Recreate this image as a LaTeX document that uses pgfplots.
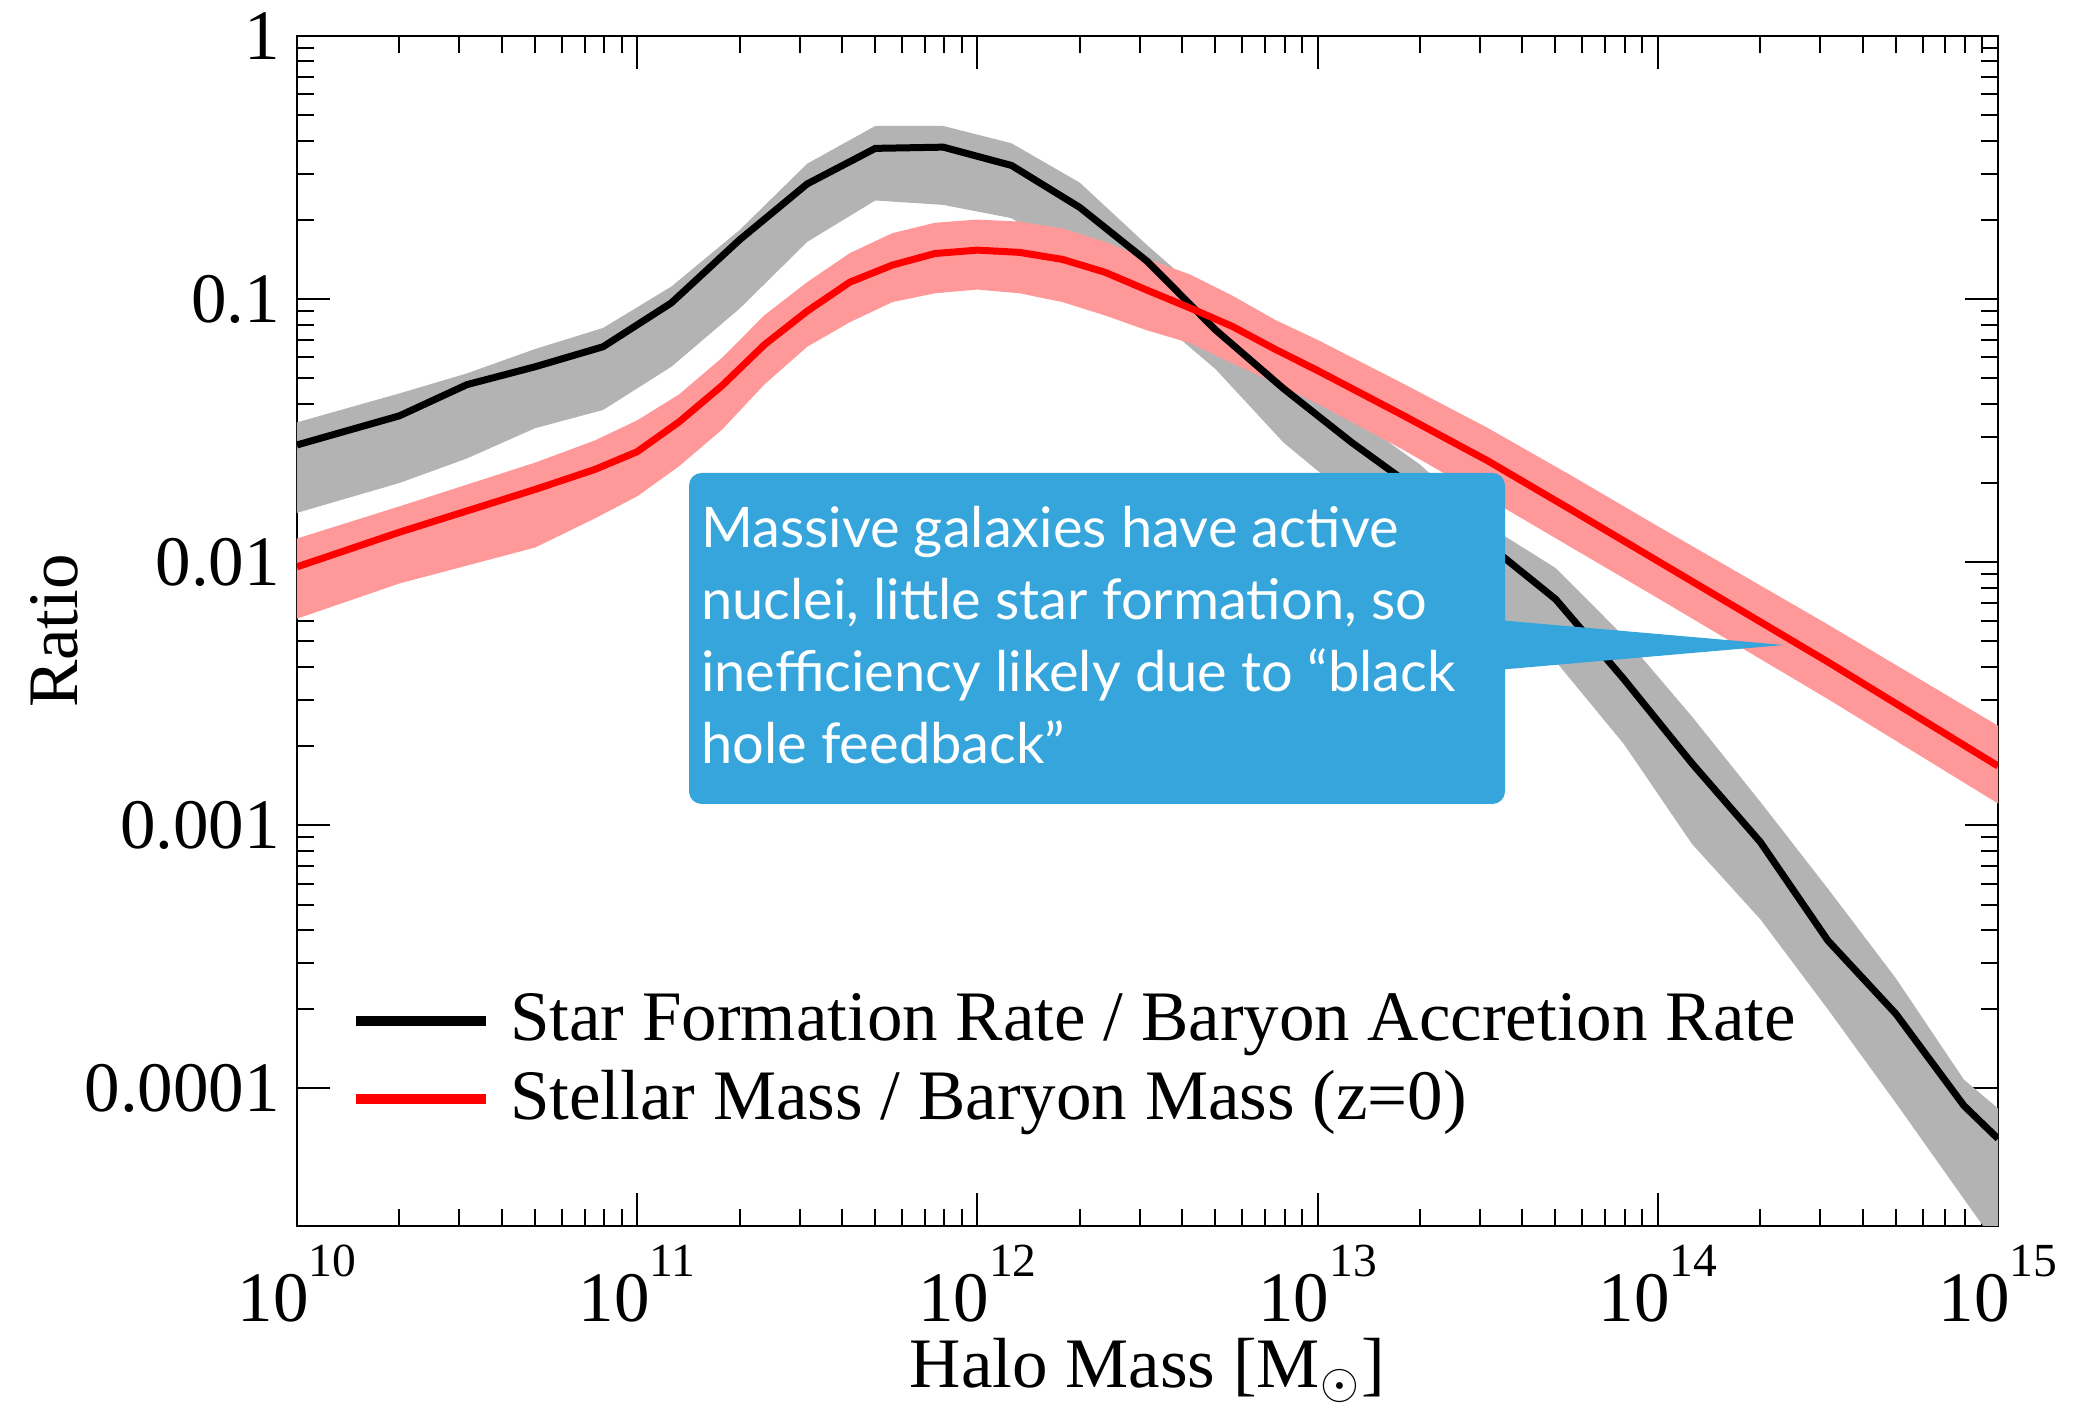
\documentclass[border=0pt]{standalone}
\usepackage{fontspec}
\setmainfont{Liberation Serif}
\newfontfamily\annofont{Lato}
\usepackage{pgfplots}
\pgfplotsset{compat=1.18}
\usepackage{pgfplotstable}
\usepgfplotslibrary{fillbetween}

\definecolor{bandgray}{HTML}{B3B3B3}
\definecolor{bandpink}{HTML}{FF9999}
\definecolor{boxblue}{HTML}{35A5DB}

% Star formation rate / baryon accretion rate
\pgfplotstableread{
m lin up lo
1e10 0.0279 0.0340 0.0154
2e10 0.0360 0.0438 0.0200
3.16e10 0.0473 0.0522 0.0248
5.01e10 0.0553 0.0646 0.0323
7.94e10 0.0659 0.0777 0.0379
1.26e11 0.0967 0.1116 0.0553
2e11 0.168 0.183 0.0920
3.16e11 0.274 0.327 0.165
5.01e11 0.374 0.455 0.237
7.94e11 0.378 0.455 0.228
1.26e12 0.322 0.391 0.203
2e12 0.223 0.277 0.140
3.16e12 0.139 0.160 0.090
5.01e12 0.0764 0.095 0.0542
7.94e12 0.0457 0.057 0.0285
1.26e13 0.0285 0.036 0.0174
2e13 0.0185 0.0235 0.0107
3.16e13 0.0117 0.0138 0.0068
5.01e13 0.00723 0.0095 0.0042
7.94e13 0.00360 0.00523 0.00204
1.26e14 0.00172 0.00259 0.00085
2e14 0.000865 0.00123 0.00044
3.16e14 0.000365 0.000575 0.000200
5.01e14 0.000192 0.000262 0.000088
7.94e14 0.0000860 0.000108 0.000038
1e15 0.0000644 0.000084 0.000025
}\sfr

% Stellar mass / baryon mass (z=0)
\pgfplotstableread{
m lin up lo
1e10 0.0096 0.0123 0.0061
2e10 0.0130 0.0163 0.0083
5.01e10 0.0189 0.0239 0.01137
7.5e10 0.0225 0.0290 0.01466
1e11 0.0263 0.0346 0.0178
1.33e11 0.0342 0.0435 0.0232
1.78e11 0.0470 0.0600 0.0320
2.37e11 0.0672 0.0870 0.0475
3.16e11 0.0900 0.116 0.0659
4.22e11 0.116 0.1496 0.0817
5.62e11 0.1346 0.178 0.0974
7.5e11 0.1490 0.195 0.1052
1e12 0.1535 0.2006 0.1087
1.33e12 0.1505 0.197 0.1052
1.78e12 0.1415 0.1855 0.0974
2.37e12 0.1265 0.165 0.0867
3.16e12 0.108 0.142 0.076
4.22e12 0.0925 0.124 0.068
5.62e12 0.0787 0.103 0.057
7.5e12 0.0645 0.0834 0.048
1e13 0.0535 0.070 0.040
1.78e13 0.0362 0.0478 0.0268
3.16e13 0.0243 0.0324 0.0175
5.62e13 0.0157 0.0212 0.0113
1e14 0.0101 0.0137 0.0073
3.16e14 0.00418 0.0058 0.00302
1e15 0.00168 0.00239 0.00121
}\smf

\newcommand{\tp}[1]{10\raisebox{9pt}{\fontsize{9.5}{10}\selectfont #1}}

\begin{document}
\begin{tikzpicture}
\begin{axis}[
  at={(0,0)}, anchor=south west,
  scale only axis, width=340.2pt, height=238pt,
  xmode=log, ymode=log,
  xmin=1e10, xmax=1e15, ymin=3e-5, ymax=1,
  xtick={1e10,1e11,1e12,1e13,1e14,1e15},
  xticklabels={\tp{10},\tp{11},\tp{12},\tp{13},\tp{14},\tp{15}},
  ytick={1e-4,1e-3,1e-2,1e-1,1},
  yticklabels={0.0001,0.001,0.01,0.1,1},
  tick align=inside,
  major tick length=6.6pt, minor tick length=3.4pt,
  every tick/.style={line width=0.4pt, black},
  axis line style={line width=0.55pt},
  ticklabel style={font=\fontsize{14.2}{17}\selectfont},
  xticklabel style={anchor=base, inner sep=0pt, yshift=-19.2pt},
  yticklabel style={anchor=east, inner sep=0pt, xshift=-3.2pt},
  xlabel={Halo Mass [M\textsubscript{$\odot$}]},
  ylabel={Ratio},
  label style={font=\fontsize{14.2}{17}\selectfont},
  xlabel style={at={(axis description cs:0.5,-0.1361)}, anchor=base, inner sep=0pt},
  ylabel style={at={(axis description cs:-0.1293,0.5)}, anchor=base, inner sep=0pt},
  legend style={draw=none, fill=none, at={(axis description cs:0.0312,0.139)}, anchor=west,
    inner sep=0pt, row sep=4.5pt, column sep=3.8pt, nodes={inner sep=0pt},
    font=\fontsize{14.2}{17}\selectfont},
  legend cell align=left,
  legend image code/.code={\draw[#1, line width=2pt] (0pt,0pt) -- (26pt,0pt);},
]
\addplot[draw=none, forget plot, name path=sfrup] table[x=m, y=up] {\sfr};
\addplot[draw=none, forget plot, name path=sfrlo] table[x=m, y=lo] {\sfr};
\addplot[bandgray, forget plot] fill between[of=sfrup and sfrlo];
\addplot[draw=none, forget plot, name path=smfup] table[x=m, y=up] {\smf};
\addplot[draw=none, forget plot, name path=smflo] table[x=m, y=lo] {\smf};
\addplot[bandpink, forget plot] fill between[of=smfup and smflo];
\addplot[black, line width=1.4pt] table[x=m, y=lin] {\sfr};
\addlegendentry{Star Formation Rate / Baryon Accretion Rate}
\addplot[red, line width=1.4pt] table[x=m, y=lin] {\smf};
\addlegendentry{Stellar Mass / Baryon Mass (z=0)}
\end{axis}
\fill[boxblue, rounded corners=2.5pt] (78.4pt,84.4pt) rectangle (241.6pt,150.6pt);
\fill[boxblue] (240pt,121.2pt) -- (297.4pt,116.2pt) -- (240pt,111.2pt) -- cycle;
\begin{scope}[every node/.style={anchor=base west, inner sep=0pt, text=white, font=\annofont\fontsize{11.2}{13}\selectfont}]
\node at (80.6pt,135.7pt) {Massive galaxies have active};
\node at (80.6pt,121.3pt) {nuclei, little star formation, so};
\node at (80.6pt,106.9pt) {inefficiency likely due to “black};
\node at (80.6pt,92.5pt) {hole feedback”};
\end{scope}
\pgfresetboundingbox
\path (-59.4pt,-38.2pt) rectangle (356pt,245.2pt);
\end{tikzpicture}
\end{document}
